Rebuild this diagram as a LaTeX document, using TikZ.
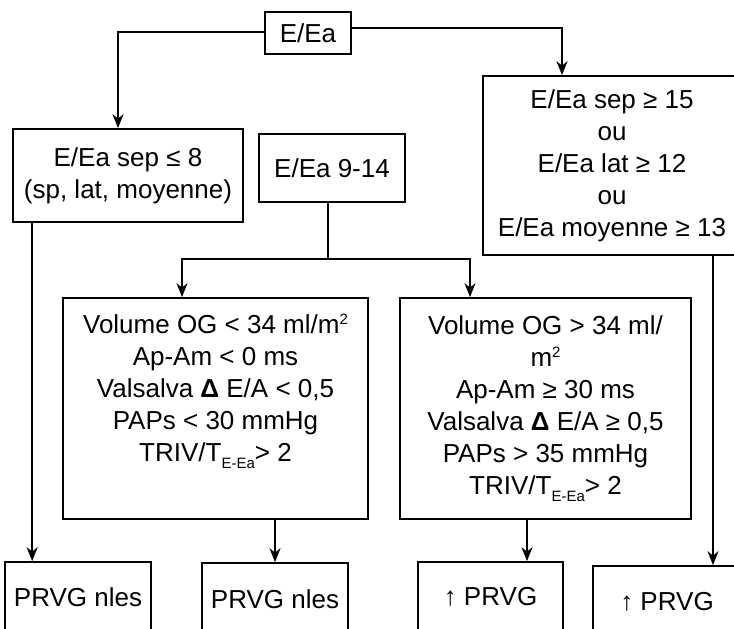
\documentclass[tikz,border=0pt]{standalone}
\usepackage{fontspec}
\setmainfont{Liberation Sans}
\usetikzlibrary{arrows.meta}

\begin{document}
\begin{tikzpicture}[
    x=1pt, y=-1pt,
    box/.style={draw=black, line width=1.7pt, align=center, inner sep=0pt, font=\fontsize{26}{32}\selectfont},
    arrow/.style={-{Stealth[length=14pt,width=11pt]}, line width=1.7pt, black},
    link/.style={line width=1.7pt, black}
]
\useasboundingbox (0,0) rectangle (734,629);
\clip (0,0) rectangle (734,629);

\node[box, minimum width=86pt, minimum height=42pt] (ratio) at (308,33) {E/Ea};
\node[box, minimum width=230pt, minimum height=93pt] (low) at (128,175.5) {E/Ea sep ≤ 8\\(sp, lat, moyenne)};
\node[box, minimum width=146pt, minimum height=68pt] (mid) at (332,168) {E/Ea 9-14};
\node[box, minimum width=258pt, minimum height=179pt] (high) at (612,165.5) {E/Ea sep ≥ 15\\ou\\E/Ea lat ≥ 12\\ou\\E/Ea moyenne ≥ 13};
\node[box, minimum width=305pt, minimum height=221pt] (normal) at (215.5,408.5) {Volume OG < 34 ml/m\raisebox{9pt}{\fontsize{15}{15}\selectfont 2}\\Ap-Am < 0 ms\\Valsalva {\bfseries Δ} E/A < 0,5\\PAPs < 30 mmHg\\TRIV/T\raisebox{-7pt}{\fontsize{15}{15}\selectfont E-Ea}> 2\\ \strut};
\node[box, minimum width=291pt, minimum height=221pt] (raised) at (545.5,408.5) {Volume OG > 34 ml/\\m\raisebox{9pt}{\fontsize{15}{15}\selectfont 2}\\Ap-Am ≥ 30 ms\\Valsalva {\bfseries Δ} E/A ≥ 0,5\\PAPs > 35 mmHg\\TRIV/T\raisebox{-7pt}{\fontsize{15}{15}\selectfont E-Ea}> 2};
\node[box, minimum width=146pt, minimum height=70pt] (out1) at (78,597) {PRVG nles};
\node[box, minimum width=146pt, minimum height=72pt] (out2) at (275,599) {PRVG nles};
\node[box, minimum width=145pt, minimum height=70pt] (out3) at (490.5,597) {↑ PRVG};
\node[box, minimum width=148pt, minimum height=72pt] (out4) at (667,602) {↑ PRVG};

% branch points
\coordinate (lowin) at ([xshift=-10pt]low.north);
\coordinate (highin) at ([xshift=-50pt]high.north);
\coordinate (split) at (328,259);
\coordinate (normalin) at ([xshift=-33.5pt]normal.north);
\coordinate (raisedin) at ([xshift=-75.5pt]raised.north);
\coordinate (lowout) at ([xshift=20pt]low.south west);
\coordinate (raisedout) at ([xshift=-18.5pt]raised.south);
\coordinate (highout) at ([xshift=101pt]high.south);

\draw[arrow] ([yshift=1pt]ratio.west) -| (lowin);
\draw[arrow] ([yshift=5pt]ratio.east) -| (highin);
\draw[link] (mid.south -| split) -- (split);
\draw[arrow] (split) -| (normalin);
\draw[arrow] (split) -| (raisedin);
\draw[arrow] (lowout) -- (lowout |- out1.north);
\draw[arrow] (out2.north |- normal.south) -- (out2.north);
\draw[arrow] (raisedout) -- (raisedout |- out3.north);
\draw[arrow] (highout) -- (highout |- out4.north);
\end{tikzpicture}
\end{document}
